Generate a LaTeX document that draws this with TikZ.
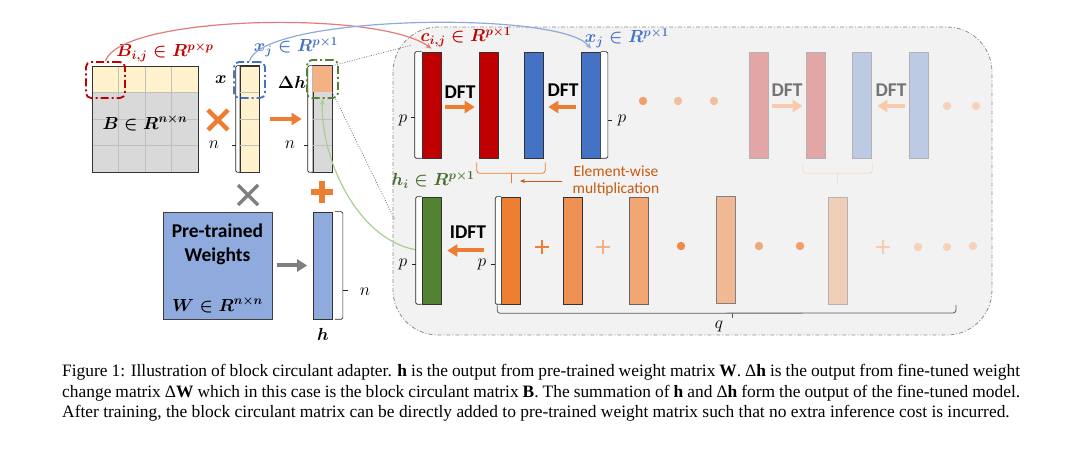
\RequirePackage{fix-cm}
\documentclass[tikz,border=0pt]{standalone}
\usepackage{amsmath}
\usepackage{fontspec}
\setsansfont{Carlito}
\newfontfamily\capfont{Liberation Serif}
\usetikzlibrary{arrows.meta, calc}

\definecolor{cellY}{HTML}{FFF2CC}
\definecolor{cellG}{HTML}{D9D9D9}
\definecolor{cellO}{HTML}{F4B183}
\definecolor{gridc}{HTML}{BFBFBF}
\definecolor{orangec}{HTML}{ED7D31}
\definecolor{ewc}{HTML}{C55A11}
\definecolor{redc}{HTML}{C00000}
\definecolor{bluec}{HTML}{4472C4}
\definecolor{greenc}{HTML}{548235}
\definecolor{wblue}{HTML}{8FAADC}
\definecolor{grayc}{HTML}{7F7F7F}
\definecolor{panelc}{HTML}{F2F2F2}
\definecolor{redline}{HTML}{E57A7A}
\definecolor{blueline}{HTML}{8EA9DB}
\definecolor{greenline}{HTML}{A9D08E}
\definecolor{fred}{HTML}{E3A6A6}
\definecolor{fblue}{HTML}{BCCAE3}
\definecolor{farrow}{HTML}{F8CBAD}
\definecolor{fbrace}{HTML}{F8DCC7}
\definecolor{oB}{HTML}{EF9155}
\definecolor{oC}{HTML}{F1A673}
\definecolor{oD}{HTML}{F0B893}
\definecolor{oE}{HTML}{EFCFB7}
\definecolor{dotA}{HTML}{F0A06A}
\definecolor{dotB}{HTML}{F4BE9A}
\definecolor{dotC}{HTML}{F6D2BA}
\definecolor{dotD}{HTML}{EE8B4B}
\definecolor{dotE}{HTML}{F1A878}

\newcommand{\lblfont}{\fontsize{17.5}{20}\selectfont}
\newcommand{\sffont}{\sffamily\bfseries\fontsize{19.5}{24}\selectfont}

\tikzset{
  col/.style={draw=black!80, line width=0.6pt, inner sep=0, minimum width=19pt, minimum height=106pt},
  fcol/.style={col, draw=black!30},
  brk/.style={draw=black!85, line width=0.6pt, fill=white, rounded corners=1.5pt},
  grid/.style={draw=gridc, line width=0.6pt},
  sel/.style={draw=#1, line width=1.8pt, dash pattern=on 8pt off 3pt on 2pt off 3pt, rounded corners=5pt, inner sep=0},
  lbl/.style={font=\lblfont, inner sep=0},
  dft/.style={font=\sffont, inner sep=0},
  bigarrow/.style={draw=#1, line width=4pt, -{Triangle[length=10pt,width=12pt]}},
  thinarrow/.style={line width=1.2pt, -{Stealth[length=6pt,width=5pt]}},
  opmark/.style={draw=#1, line width=4.5pt},
  plusmark/.style={draw=#1, line width=2.5pt},
  dotline/.style={draw=black!55, line width=0.7pt, dash pattern=on 1pt off 1.5pt},
  panel/.style={fill=panelc, draw=black!45, line width=0.8pt, dash pattern=on 4pt off 2pt on 1pt off 2pt, rounded corners=45pt},
}

% bracket left / right of a column
\newcommand{\lbrk}[3]{%
  \filldraw[brk] (#1.north west) -- ++(-#3,0) -- ($(#1.south west)+(-#3,0)$) -- (#1.south west);
  \draw[brk] ($(#1.north west)!#2!(#1.south west)+(-#3,0)$) -- ++(-4,0);}
\newcommand{\rbrk}[3]{%
  \filldraw[brk] (#1.north east) -- ++(#3,0) -- ($(#1.south east)+(#3,0)$) -- (#1.south east);
  \draw[brk] ($(#1.north east)!#2!(#1.south east)+(#3,0)$) -- ++(4,0);}

\begin{document}
\begin{tikzpicture}[x=1pt,y=-1pt]
\useasboundingbox (0,0) rectangle (1080,449);

% circulant panel
\filldraw[panel] (393,27) rectangle (992,335);

% block circulant matrix B
\fill[cellG] (92,66) rectangle (198,172);
\fill[cellY] (92,66) rectangle (198,92.5);
\foreach \i in {1,2,3} {
  \draw[grid] ({92+26.5*\i},66) -- ({92+26.5*\i},172);
  \draw[grid] (92,{66+26.5*\i}) -- (198,{66+26.5*\i});
}
\node[draw=black!80, line width=0.8pt, minimum size=106pt, inner sep=0] (B) at (145,119) {};
\node[lbl] (Blbl) at (145,123) {$\boldsymbol{B\in R^{n\times n}}$};
\node[sel=redc, minimum width=39pt, minimum height=36pt] (Bsel) at (105.5,80) {};
\node[lbl, text=redc] (Bij) at (165,52) {$\boldsymbol{B_{i,j}\in R^{p\times p}}$};

% input x
\node[col, fill=cellY] (x) at (249.5,119) {};
\foreach \t in {92.5,119,145.5} \draw[grid] (x.west |- 0,\t) -- (x.east |- 0,\t);
\draw[draw=black!80, line width=0.6pt] (x.north west) rectangle (x.south east);
\lbrk{x}{0.745}{4}
\node[lbl] (xn) at (214,145) {$n$};
\node[lbl] (xlbl) at (221,80) {$\boldsymbol{x}$};
\node[sel=bluec, minimum width=31pt, minimum height=36pt] (xsel) at (249.5,80) {};
\node[lbl, text=bluec] (xjl) at (296,47) {$\boldsymbol{x_j\in R^{p\times 1}}$};

% output delta h
\node[col, fill=cellG] (dh) at (322.5,119) {};
\fill[cellO] (dh.north west) rectangle ([yshift=-26.5pt]dh.north east);
\foreach \t in {119,145.5} \draw[grid] (dh.west |- 0,\t) -- (dh.east |- 0,\t);
\draw[draw=black!80, line width=0.6pt] (dh.north west) rectangle (dh.south east);
\lbrk{dh}{0.745}{5}
\node[lbl] (dhn) at (290,145) {$n$};
\node[lbl] (dhlbl) at (292,82) {$\boldsymbol{\Delta h}$};
\node[sel=greenc, minimum width=31pt, minimum height=38pt] (dhsel) at (322.5,79) {};

% operators
\draw[opmark=orangec] (208,110) -- (228,130) (208,130) -- (228,110);
\draw[bigarrow=orangec, shorten <=11pt, shorten >=11pt] (x) -- (dh);
\draw[opmark=grayc, line width=3.5pt] (238,185) -- (258,205) (238,205) -- (258,185);
\draw[opmark=orangec, line width=6pt] (311,192) -- (333,192) (322,181) -- (322,203);

% pre-trained weights
\node[fill=wblue, draw=black!75, line width=0.8pt, minimum width=109pt, minimum height=107pt] (W) at (217.5,265.5) {};
\node[dft, align=center] (Wtxt) at (217.5,244) {Pre-trained\\Weights};
\node[lbl] (Wlbl) at (217.5,305) {$\boldsymbol{W\in R^{n\times n}}$};
\node[col, fill=wblue, minimum height=107pt] (h) at (323,265.5) {};
\draw[bigarrow=grayc, shorten <=5pt, shorten >=6pt] (W) -- (h);
\draw[brk, fill=none] ($(h.north east)+(2,0)$) -- ++(8,0) -- ($(h.south east)+(10,0)$) -- ++(-8,0);
\draw[brk] ($(h.north east)!0.73!(h.south east)+(10,0)$) -- ++(5,0);
\node[lbl] (hn) at (365,292) {$n$};
\node[lbl] (hlbl) at (323,334) {$\boldsymbol{h}$};

% DFT row
\node[col, fill=redc] (c1) at (431.5,105) {};
\node[col, fill=redc] (c2) at (488.5,105) {};
\node[col, fill=bluec] (x1) at (533.5,105) {};
\node[col, fill=bluec] (x2) at (591,105) {};
\lbrk{c1}{0.62}{7}
\rbrk{x2}{0.64}{7}
\node[lbl] (c1p) at (403,120) {$p$};
\node[lbl] (x2p) at (622,120) {$p$};
\draw[bigarrow=orangec, shorten <=4pt, shorten >=4pt] ([yshift=-2pt]c1.east) -- ([yshift=-2pt]c2.west);
\draw[bigarrow=orangec, shorten <=5pt, shorten >=5pt] ([yshift=-2pt]x2.west) -- ([yshift=-2pt]x1.east);
\node[dft] (dft1) at (460,92) {DFT};
\node[dft] (dft2) at (563,90) {DFT};
\node[lbl, text=redc] (cij) at (466,37) {$\boldsymbol{c_{i,j}\in R^{p\times 1}}$};
\node[lbl, text=bluec] (xj) at (627,38) {$\boldsymbol{x_j\in R^{p\times 1}}$};
\foreach \x/\c in {643/dotA, 678/dotB, 714/dotB} \fill[\c] (\x,101) circle (4.2);

% faded DFT row
\node[fcol, fill=fred] (f1) at (758.5,105) {};
\node[fcol, fill=fred] (f2) at (815.5,105) {};
\node[fcol, fill=fblue] (f3) at (861.5,105) {};
\node[fcol, fill=fblue] (f4) at (918.5,105) {};
\draw[bigarrow=farrow, shorten <=4pt, shorten >=3pt] ([yshift=-1pt]f1.east) -- ([yshift=-1pt]f2.west);
\draw[bigarrow=farrow, shorten <=4pt, shorten >=6pt] ([yshift=-1pt]f4.west) -- ([yshift=-1pt]f3.east);
\node[dft, text=black!55] (dft3) at (787,90) {DFT};
\node[dft, text=black!55] (dft4) at (891,90) {DFT};
\foreach \x in {947,976} \fill[dotC] (\x,106) circle (4.2);

% element-wise braces
\draw[draw=orangec, line width=0.8pt, rounded corners=3pt] ($(c2.south west)+(-2,4)$) -- ++(0,11) -- ($(x1.south east)+(2,15)$) -- ++(0,-11);
\draw[draw=orangec, line width=0.8pt] ($(c2.south west)!0.5!(x1.south east)+(0,15)$) -- ++(0,10) coordinate (ewtip);
\draw[draw=fbrace, line width=0.8pt, rounded corners=3pt] ($(f2.south west)+(-3,4)$) -- ++(0,11) -- ($(f3.south east)+(1,15)$) -- ++(0,-11);
\draw[draw=fbrace, line width=0.8pt] ($(f2.south west)!0.5!(f3.south east)+(-1,15)$) -- ++(0,10);
\node[font=\sffamily\fontsize{15.5}{17}\selectfont, text=ewc, align=center, inner sep=0] (ew) at (616,181) {Element-wise\\multiplication};
\draw[draw=ewc, line width=0.7pt, -{Stealth[length=5pt,width=4pt]}, shorten <=10pt, shorten >=9pt] (ew.west) -- (ew.west -| ewtip);

% IDFT row
\node[col, fill=greenc, minimum height=107pt] (g) at (431.5,250.5) {};
\node[col, fill=orangec, minimum height=107pt] (o1) at (511,250.5) {};
\node[col, fill=oB, minimum height=107pt] (o2) at (572.5,250.5) {};
\node[col, fill=oC, draw=black!60, minimum height=107pt] (o3) at (638.5,250.5) {};
\node[col, fill=oD, draw=black!50, minimum height=107pt] (o4) at (725.5,250) {};
\node[col, fill=oE, draw=black!30, minimum height=107pt] (o5) at (837.5,250.5) {};
\node[lbl, text=greenc!85!black] (hi) at (433,180) {$\boldsymbol{h_i\in R^{p\times 1}}$};
\node[dft] (idft) at (468,232) {IDFT};
\draw[bigarrow=orangec, shorten <=17pt, shorten >=6pt] (o1.west) -- (g.east);
\foreach \x/\c in {542/orangec, 603/cellO, 883/farrow} \draw[plusmark=\c] ({\x-7},247) -- ({\x+7},247) (\x,240) -- (\x,254);
\foreach \x/\y/\c in {681/246/dotD, 759/246/dotE, 800/246/dotA, 918/247/dotC, 947/247/dotC, 973/246/dotC} \fill[\c] (\x,\y) circle (4.2);

% lines to the panel
\coordinate (pa) at (412,45);
\coordinate (pb) at (395,220);
\draw[dotline] (dh.north east) -- (pa);
\draw[dotline] ([yshift=-26.5pt]dh.north east) -- (pb);
\draw[thinarrow, draw=greenline] (g.west) .. controls (360,245) and (320,160) .. (dhsel.south);
\lbrk{g}{0.63}{6}
\lbrk{o1}{0.63}{6}
\node[lbl] (gp) at (403,264) {$p$};
\node[lbl] (o1p) at (482,264) {$p$};
\draw[thinarrow, draw=redline] (Bsel.north) .. controls (120,15) and (380,10) .. ([yshift=3pt]c1.north);
\draw[thinarrow, draw=blueline] (xsel.north) .. controls (262,15) and (560,10) .. ([yshift=3pt]x2.north);

% q brace
\coordinate (qend) at (956,305);
\draw[draw=black!65, line width=0.8pt, rounded corners=3pt] ($(o1.south west)+(-4,1)$) -- ++(0,8) -- (qend |- 0,313) -- (qend);
\draw[draw=black!65, line width=0.8pt] (732,313) -- (732,318);
\node[lbl] (q) at (719,326) {$q$};

% caption
\node[anchor=base west, text width=958pt, align=justify, inner sep=0, font=\capfont\fontsize{17.4}{20.5}\selectfont] (cap) at (62,377)
{Figure 1: Illustration of block circulant adapter. \textbf{h} is the output from pre-trained weight matrix \textbf{W}. Δ\textbf{h} is the output from fine-tuned weight\linebreak
change matrix Δ\textbf{W} which in this case is the block circulant matrix \textbf{B}. The summation of \textbf{h} and Δ\textbf{h} form the output of the fine-tuned model.\linebreak
After training, the block circulant matrix can be directly added to pre-trained weight matrix such that no extra inference cost is incurred.};
\end{tikzpicture}
\end{document}
